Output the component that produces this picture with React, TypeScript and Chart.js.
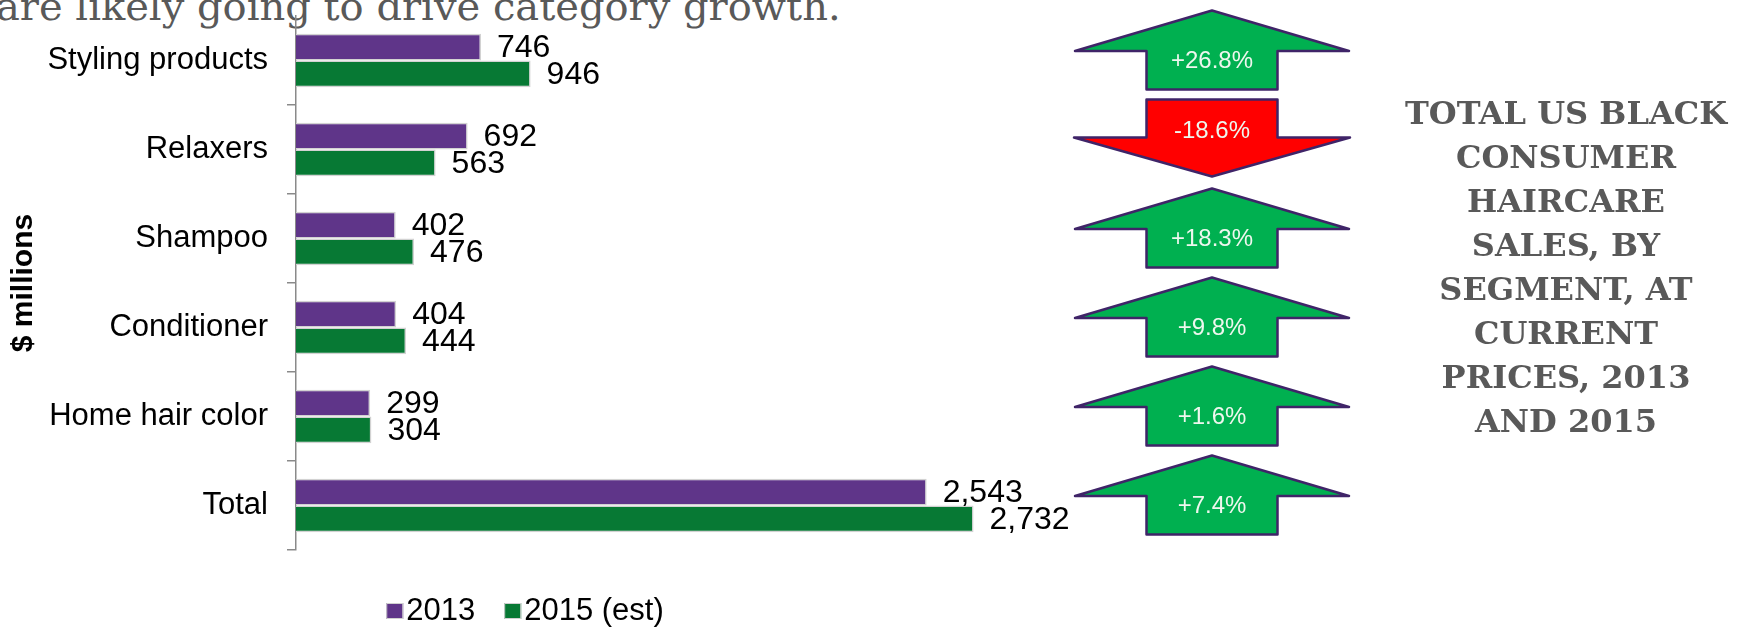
import React, { useEffect, useRef } from "react";
import { Chart, registerables } from "chart.js";

Chart.register(...registerables);

const categories = ["Styling products", "Relaxers", "Shampoo", "Conditioner", "Home hair color", "Total"];
const sales2013 = [746, 692, 402, 404, 299, 2543];
const sales2015 = [946, 563, 476, 444, 304, 2732];
const changeLabels = ["+26.8%", "-18.6%", "+18.3%", "+9.8%", "+1.6%", "+7.4%"];
const seriesLabels = ["2013", "2015 (est)"];
const xMax = 3000;
const headlineText = "are likely going to drive category growth.";
const sideTitleLines = ["TOTAL US BLACK", "CONSUMER", "HAIRCARE", "SALES, BY", "SEGMENT, AT", "CURRENT", "PRICES, 2013", "AND 2015"];

const PURPLE = "#5F3589";
const GREEN = "#077934";
const SANS = "'Liberation Sans', Arial, sans-serif";

const dataLabelPlugin = {
  id: "dataLabels",
  afterDatasetsDraw(chart: any) {
    const ctx = chart.ctx;
    ctx.save();
    ctx.font = `32px ${SANS}`;
    ctx.fillStyle = "#000";
    ctx.textAlign = "left";
    ctx.textBaseline = "middle";
    chart.data.datasets.forEach((ds: any, di: number) => {
      const meta = chart.getDatasetMeta(di);
      meta.data.forEach((bar: any, i: number) => {
        const v = ds.data[i];
        ctx.fillText(Number(v).toLocaleString("en-US"), bar.x + 16, bar.y + 1);
      });
    });
    ctx.restore();
  },
};

const legendPlugin = {
  id: "customLegend",
  afterDraw(chart: any) {
    const ctx = chart.ctx;
    ctx.save();
    ctx.font = `31px ${SANS}`;
    ctx.textBaseline = "middle";
    ctx.textAlign = "left";
    const box = 17;
    const gapBox = 3;
    const gapItem = 29;
    const items = chart.data.datasets.map((ds: any) => ({
      label: ds.label,
      color: ds.backgroundColor,
      w: box + gapBox + ctx.measureText(ds.label).width,
    }));
    const total = items.reduce((s: number, it: any) => s + it.w, 0) + gapItem * (items.length - 1);
    const center = (chart.chartArea.right + 10) / 2;
    let x = center - total / 2;
    const cy = 611;
    items.forEach((it: any) => {
      ctx.fillStyle = it.color;
      ctx.fillRect(x, cy - 8, box, 16);
      ctx.strokeStyle = "#d0d0d0";
      ctx.lineWidth = 1;
      ctx.strokeRect(x + 0.5, cy - 7.5, box - 1, 15);
      ctx.fillStyle = "#000";
      ctx.fillText(it.label, x + box + gapBox, cy);
      x += it.w + gapItem;
    });
    ctx.restore();
  },
};

const arrowsPlugin = {
  id: "changeArrows",
  afterDraw(chart: any) {
    const ctx = chart.ctx;
    const yScale = chart.scales.y;
    const cx = 1212;
    const headHalf = 137;
    const shaftHalf = 65.5;
    ctx.save();
    changeLabels.forEach((lbl, i) => {
      const cy = yScale.getPixelForValue(i);
      const up = !lbl.startsWith("-");
      ctx.beginPath();
      if (up) {
        const tip = cy - 50;
        const base = cy - 9.5;
        const bottom = cy + 29;
        ctx.moveTo(cx, tip);
        ctx.lineTo(cx + headHalf, base);
        ctx.lineTo(cx + shaftHalf, base);
        ctx.lineTo(cx + shaftHalf, bottom);
        ctx.lineTo(cx - shaftHalf, bottom);
        ctx.lineTo(cx - shaftHalf, base);
        ctx.lineTo(cx - headHalf, base);
      } else {
        const top = cy - 50;
        const base = cy - 12;
        const tip = cy + 27;
        ctx.moveTo(cx - shaftHalf, top);
        ctx.lineTo(cx + shaftHalf, top);
        ctx.lineTo(cx + shaftHalf, base);
        ctx.lineTo(cx + headHalf + 1, base);
        ctx.lineTo(cx, tip);
        ctx.lineTo(cx - headHalf - 1, base);
        ctx.lineTo(cx - shaftHalf, base);
      }
      ctx.closePath();
      ctx.fillStyle = up ? "#00B050" : "#FF0000";
      ctx.fill();
      ctx.lineWidth = 2.5;
      ctx.lineJoin = "round";
      ctx.strokeStyle = "#3F2468";
      ctx.stroke();
      ctx.font = `24px ${SANS}`;
      ctx.fillStyle = "#EEF7EE";
      ctx.textAlign = "center";
      ctx.textBaseline = "middle";
      ctx.fillText(lbl, cx, up ? cy + 1 : cy - 18);
    });
    ctx.restore();
  },
};

export default function App() {
  const canvasRef = useRef<HTMLCanvasElement | null>(null);

  useEffect(() => {
    document.body.style.margin = "0";
    const canvas = canvasRef.current;
    if (!canvas) return;
    const chart = new Chart(canvas, {
      type: "bar",
      data: {
        labels: categories,
        datasets: [
          {
            label: seriesLabels[0],
            data: sales2013,
            backgroundColor: PURPLE,
            borderColor: "#d2d2d2",
            borderWidth: 1.5,
            categoryPercentage: 0.6,
            barPercentage: 1,
          },
          {
            label: seriesLabels[1],
            data: sales2015,
            backgroundColor: GREEN,
            borderColor: "#d2d2d2",
            borderWidth: 1.5,
            categoryPercentage: 0.6,
            barPercentage: 1,
          },
        ],
      },
      options: {
        indexAxis: "y",
        animation: false,
        responsive: false,
        devicePixelRatio: 1,
        layout: { padding: { top: 16, bottom: 77, left: 0, right: 702 } },
        plugins: {
          legend: { display: false },
          tooltip: { enabled: false },
        },
        scales: {
          x: { display: false, min: 0, max: xMax },
          y: {
            afterFit: (scale: any) => {
              scale.width = 296;
              scale.paddingTop = 0;
              scale.paddingBottom = 0;
            },
            grid: {
              offset: true,
              drawOnChartArea: false,
              drawTicks: true,
              tickLength: 9,
              lineWidth: 1.5,
              color: (c: any) => (c.index === 0 ? "rgba(0,0,0,0)" : "#8a8a8a"),
            },
            border: { display: true, color: "#8a8a8a", width: 1.5 },
            ticks: {
              color: "#000",
              padding: 19,
              font: { family: SANS, size: 31 },
            },
            title: {
              display: true,
              text: "$ millions",
              color: "#000",
              font: { family: SANS, size: 30, weight: "bold" },
              padding: { top: 6, bottom: 0 },
            },
          },
        },
      },
      plugins: [dataLabelPlugin, legendPlugin, arrowsPlugin],
    } as any);
    return () => chart.destroy();
  }, []);

  return (
    <div style={{ position: "relative", width: 1742, height: 627, overflow: "hidden", background: "#fff" }}>
      <div
        style={{
          position: "absolute",
          left: -4,
          top: -17,
          whiteSpace: "nowrap",
          fontFamily: "'DejaVu Serif', serif",
          fontSize: 40,
          lineHeight: "normal",
          color: "#595959",
        }}
      >
        {headlineText}
      </div>
      <canvas ref={canvasRef} width={1742} height={627} style={{ position: "absolute", left: 0, top: 0 }} />
      <div
        style={{
          position: "absolute",
          left: 1390,
          width: 352,
          top: 91,
          textAlign: "center",
          fontFamily: "'DejaVu Serif', serif",
          fontWeight: "bold",
          fontSize: 32,
          lineHeight: "44px",
          color: "#595959",
        }}
      >
        {sideTitleLines.map((l, i) => (
          <div key={i}>{l}</div>
        ))}
      </div>
    </div>
  );
}
